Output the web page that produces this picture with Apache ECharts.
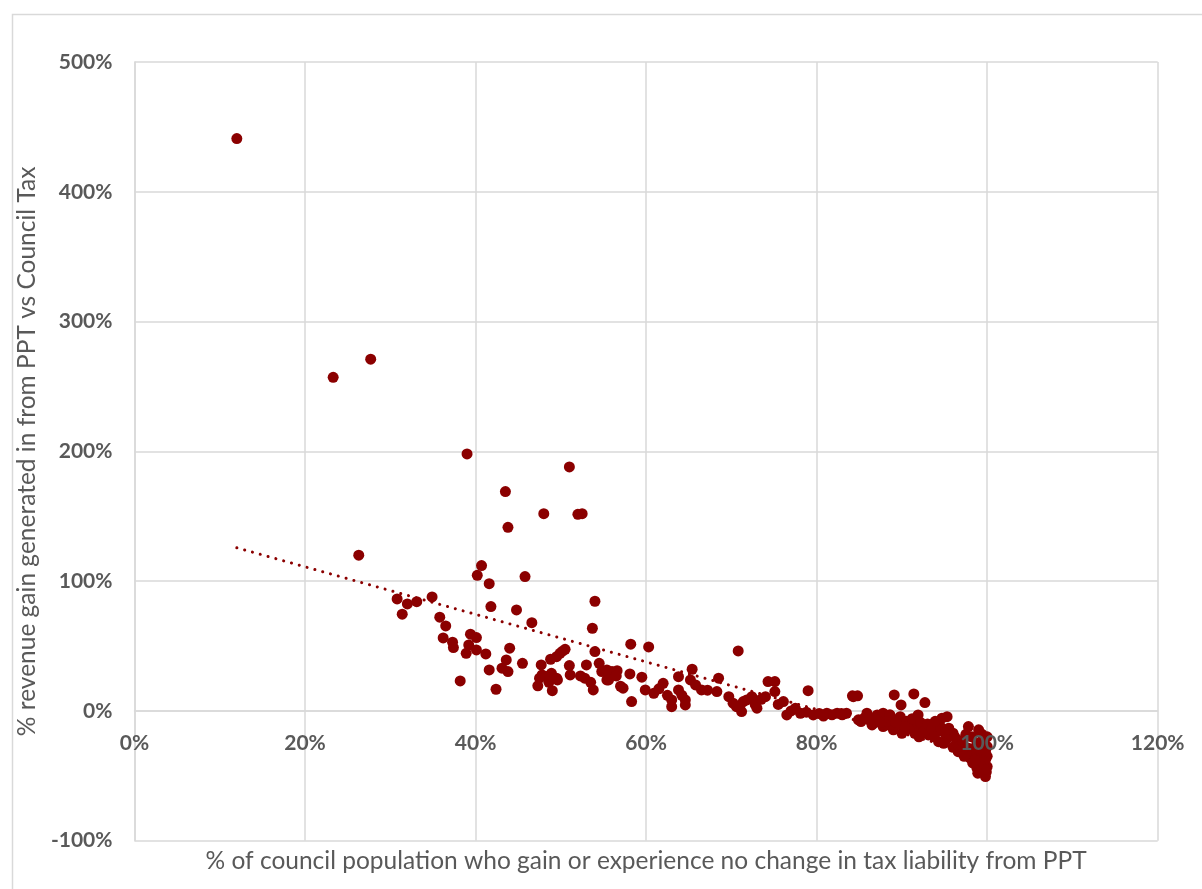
<!DOCTYPE html>
<html>
<head>
<meta charset="utf-8">
<script src="https://cdn.jsdelivr.net/npm/echarts@6/dist/echarts.min.js"></script>
<style>
html,body{margin:0;padding:0;background:#fff;}
#chart{width:1202px;height:889px;}
</style>
</head>
<body>
<div id="chart"></div>
<script>
// x: % of council population who gain or experience no change (percent)
const xValues = [
 12.0, 23.3, 27.7, 26.3, 39.0, 51.0, 43.5, 43.8, 48.0, 52.0, 52.5, 40.7, 40.2, 41.6, 45.8, 54.0,
 30.8, 32.0, 33.1, 31.4, 34.9, 35.8, 36.5, 36.2, 37.3, 37.4, 38.2, 39.4, 40.1, 39.2, 38.9, 40.1, 41.2,
 41.8, 44.8, 46.6, 44.0, 41.6, 42.4, 43.6, 43.1, 43.8, 45.5, 47.7, 47.8, 47.5, 48.9, 49.0, 49.6, 51.0,
 51.1, 49.5, 49.9, 50.5, 48.8, 47.3, 49.5, 53.7, 54.0, 54.5, 53.0, 52.8, 53.8, 55.4, 56.0, 54.8, 53.5,
 52.3, 50.2, 48.3, 48.6,
 58.2, 60.3, 55.4, 56.6, 55.6, 58.1, 57.3, 58.3, 59.5, 59.9, 60.9, 62.0, 63.0, 63.8, 63.8, 64.6, 65.4,
 65.2, 66.5, 68.5, 68.3, 69.7, 70.8, 70.6, 71.2, 71.8, 72.4, 73.0, 74.3, 75.1, 74.0, 75.1, 76.1, 76.5,
 79.0, 78.1, 79.6, 81.2, 82.4, 83.5, 84.3, 84.9, 63.0, 71.4, 64.6, 57.0, 56.5, 61.5, 62.5, 64.2, 65.8,
 67.2, 70.2, 71.0, 72.8, 73.5, 75.5, 77.0, 78.8, 80.3, 81.8, 82.9, 77.5,
 84.2, 84.8, 85.2, 85.6, 86.5, 85.9, 87.1, 87.8, 87.4, 88.4, 87.8, 89.1, 89.9, 91.4, 92.7, 89.8, 90.0,
 89.0, 91.0, 91.9, 91.9, 91.5, 92.7, 93.1, 94.1, 94.7, 94.3, 95.5, 95.5, 96.0, 96.4, 96.6, 97.2, 97.8,
 97.8, 98.0, 99.0, 98.8, 98.8, 99.6, 99.8, 99.8, 99.8, 100.0, 100.0,
 86.0, 86.8, 88.0, 88.8, 89.5, 90.5, 90.8, 91.2, 92.2, 92.5, 93.0, 93.5, 93.8, 94.5, 95.0, 95.2, 96.2,
 96.8, 97.5, 97.5, 98.2, 98.5, 99.2, 99.5, 100.0, 99.9, 100.0, 99.4, 98.3, 93.9, 92.0, 90.3, 88.6, 87.5,
 95.3, 80.8, 83.0, 86.2, 89.3, 94.9, 97.0, 99.7, 98.6, 96.0, 97.3, 98.9, 99.3
];
// y: % revenue gain generated from PPT vs Council Tax (percent)
const yValues = [
 441, 257, 271, 120, 198, 188, 169, 141.5, 152, 151.5, 152, 112, 104.5, 98, 103.5, 84.5,
 86.3, 82.4, 84.2, 74.5, 87.8, 72.2, 65.5, 56.2, 52.9, 48.8, 23.1, 59.1, 56.5, 50.8, 44.4, 47, 43.9,
 80.4, 77.8, 68, 48.3, 31.6, 16.7, 39.3, 32.9, 30.3, 36.7, 35.4, 27.7, 25.2, 29, 15.6, 23.9, 34.9,
 27.7, 41.8, 44.4, 47.5, 39.8, 19.3, 25.2, 63.7, 45.7, 36.7, 35.4, 25.2, 16.2, 23.9, 30.3, 30.3, 22,
 27, 46, 26.5, 22,
 51.4, 49.3, 31.6, 31, 23.9, 28.5, 17.5, 7.2, 26, 16.2, 13.6, 21.3, 3.3, 26.4, 16.2, 8.5, 32.1,
 23.9, 16.2, 25.2, 14.9, 11, 46.2, 3.3, -0.5, 8.5, 11, 2.1, 22.6, 22.6, 11, 14.9, 7.2, -3.1,
 15.6, -1.8, -3.1, -1.8, -1.8, -1.8, 11, -6.9, 8.5, 7.2, 4.6, 19, 27, 17, 12, 12, 20,
 16, 6, 4, 5, 9, 5, 0, -1, -2, -3, -2, 2,
 11.6, 11.6, -8.2, -5.5, -10.8, -1.8, -3.1, -1.8, -6.9, -10.8, -12.1, 12.3, 4.6, 13.1, 6.4, -4.4, -17.2,
 -14.6, -12.1, -3.1, -12.1, -17.2, -13.3, -18.5, -15.9, -5.6, -23.7, -13.3, -19.8, -17.2, -24.9, -31.4, -22.3, -12.1,
 -28.7, -36.4, -14.6, -24.9, -44.1, -22.3, -31.4, -37.7, -50.6, -42.9, -27.5,
 -4, -6, -8, -6, -10, -8, -14, -6, -9, -16, -10, -14, -20, -12, -17, -22, -20,
 -27, -18, -32, -20, -30, -33, -40, -35, -47, -20, -18, -40, -8, -20, -12, -3, -9,
 -4.4, -4, -3, -7, -9, -25, -26, -45, -38, -28, -35, -48, -26
];
// Linear trendline endpoints
const trendX = [12.0, 100.0];
const trendY = [125.7, -35.5];

const xTicks = {min: 0, max: 120, interval: 20};
const yTicks = {min: -100, max: 500, interval: 100};

const points = xValues.map((x, i) => [x, yValues[i]]);
const trend = trendX.map((x, i) => [x, trendY[i]]);

const W = 1202, H = 889;
const gridBox = {left: 134.5, top: 62, right: 44.3, bottom: 48.3};
const plotH = H - gridBox.top - gridBox.bottom;
// x axis crosses the y axis at value 0 (as in the original chart)
const xAxisOffset = -plotH * (0 - yTicks.min) / (yTicks.max - yTicks.min);

const chart = echarts.init(document.getElementById('chart'), null, {renderer: 'canvas'});
const gridColor = '#d9d9d9';
const textColor = '#595959';
const fontFam = 'Lato, "Open Sans", sans-serif';

const xLabelStyle = {formatter: '{value}%', color: textColor, fontSize: 21, fontWeight: 'bold', fontFamily: fontFam, margin: 22};

chart.setOption({
  animation: false,
  backgroundColor: '#ffffff',
  graphic: [{
    type: 'rect', left: 10, top: 12, silent: true,
    shape: {width: 1200, height: 890},
    style: {fill: 'none', stroke: '#d9d9d9', lineWidth: 1.5}
  }],
  grid: Object.assign({containLabel: false, outerBoundsMode: 'none'}, gridBox),
  xAxis: [{
    type: 'value', min: xTicks.min, max: xTicks.max, interval: xTicks.interval,
    position: 'bottom', offset: xAxisOffset,
    name: '% of council population who gain or experience no change in tax liability from PPT',
    nameLocation: 'middle', nameGap: 138,
    nameTextStyle: {color: textColor, fontSize: 24.5, fontFamily: fontFam},
    axisLine: {show: true, onZero: false, lineStyle: {color: gridColor, width: 1.5}},
    axisTick: {show: false},
    axisLabel: {show: false},
    splitLine: {show: true, lineStyle: {color: gridColor, width: 1.5}}
  }, {
    // label-only axis drawn above the markers (as in the original, labels sit over points)
    type: 'value', min: xTicks.min, max: xTicks.max, interval: xTicks.interval,
    position: 'bottom', offset: xAxisOffset, z: 10,
    axisLine: {show: false, onZero: false},
    axisTick: {show: false},
    axisLabel: xLabelStyle,
    splitLine: {show: false}
  }],
  yAxis: {
    type: 'value', min: yTicks.min, max: yTicks.max, interval: yTicks.interval,
    name: '% revenue gain generated in from PPT vs Council Tax',
    nameLocation: 'middle', nameGap: 88,
    nameTextStyle: {color: textColor, fontSize: 24.5, fontFamily: fontFam},
    axisLine: {show: true, onZero: false, lineStyle: {color: gridColor, width: 1.5}},
    axisTick: {show: false},
    axisLabel: {formatter: '{value}%', color: textColor, fontSize: 21, fontWeight: 'bold', fontFamily: fontFam, margin: 22},
    splitLine: {show: true, lineStyle: {color: gridColor, width: 1.5}}
  },
  series: [
    {
      type: 'scatter', data: points, symbol: 'circle', symbolSize: 11,
      itemStyle: {color: '#8b0000', opacity: 1}, z: 2
    },
    {
      type: 'line', data: trend, symbol: 'none', z: 3,
      lineStyle: {color: '#8b0000', width: 3, type: [0.1, 8], cap: 'round'}
    }
  ]
});
</script>
</body>
</html>
